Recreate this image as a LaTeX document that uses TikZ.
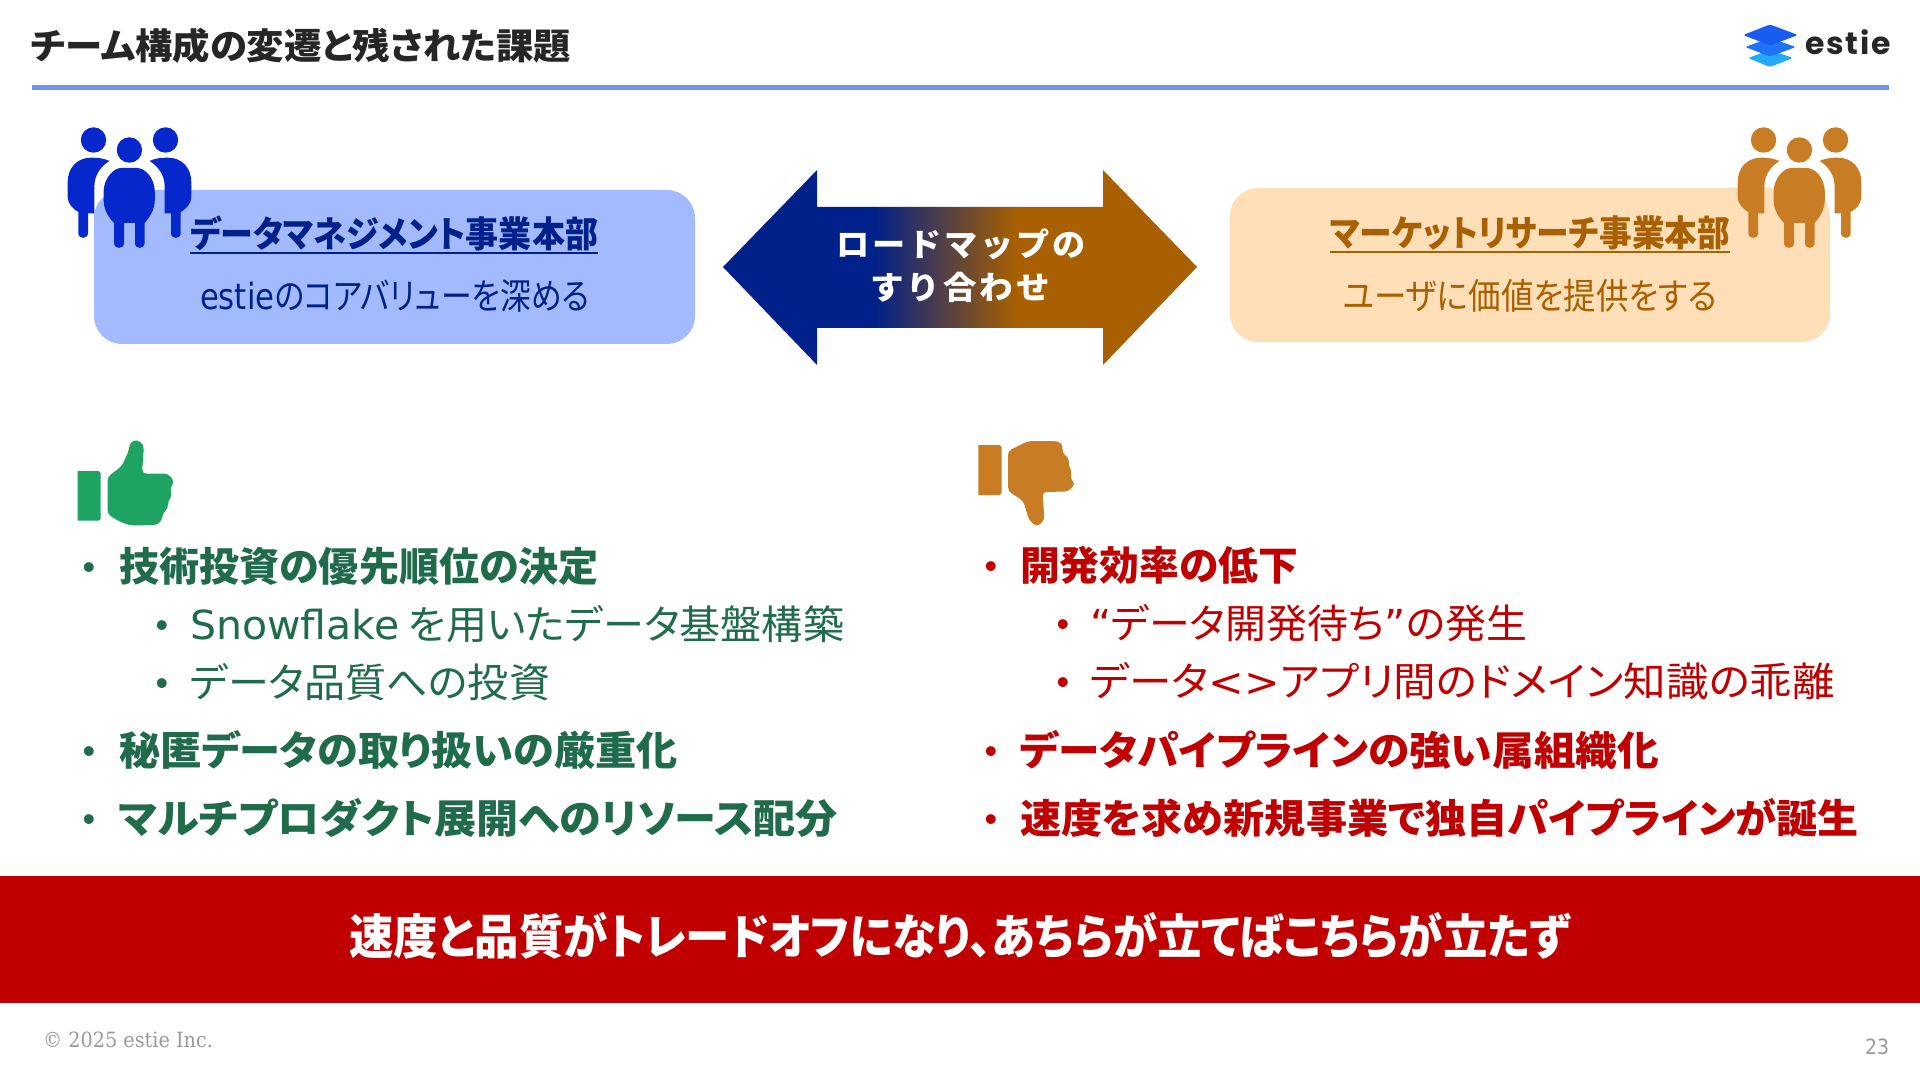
\documentclass[tikz,border=0pt]{standalone}
\usepackage{graphicx}
\usepackage{fontspec}
\setmainfont{Noto Sans CJK JP}[RawFeature=+palt]
\newfontfamily\arrowf{Noto Sans CJK JP}[LetterSpace=9]
\newfontfamily\lat{DejaVu Sans}
\newfontfamily\bul{Liberation Sans}
\newfontfamily\foot{DejaVu Serif}
\newfontfamily\logofont{Poppins}[LetterSpace=6]
\definecolor{navy}{HTML}{00208A}
\definecolor{brownt}{HTML}{A86000}
\definecolor{iconblue}{HTML}{0527CC}
\definecolor{iconbrown}{HTML}{C87D24}
\definecolor{boxblue}{HTML}{A3BAFF}
\definecolor{boxorange}{HTML}{FFDFB8}
\definecolor{goodgreen}{HTML}{1FA363}
\definecolor{textgreen}{HTML}{1F6B4A}
\definecolor{textred}{HTML}{C00000}
\definecolor{rulecol}{HTML}{6D94F0}
\definecolor{greyt}{HTML}{9A9A9A}
% fit text horizontally to a width given in reference pixels
\newsavebox\fitbox
\newcommand\fitw[2]{\sbox\fitbox{#2}\pgfmathsetmacro\fitratio{#1*0.5/\wd\fitbox}\scalebox{\fitratio}[1]{\usebox\fitbox}}
\newcommand\sidefig{\fill (94.5,140) circle[radius=12.7];
  \fill (110.5,161) .. controls (105,158.5) and (100,157.7) .. (92,157.7) .. controls (78,157.7) and (68.7,168) .. (68.7,182) -- (68.7,197) .. controls (68.7,204) and (74,209) .. (79.3,212) -- (79.3,233) .. controls (79.3,239.5) and (89,239.5) .. (89,233) -- (89,213.5) -- (95.4,213.5) -- (95.4,186) .. controls (95.4,175) and (102,166) .. (110.5,161) -- cycle;}
\newcommand\peopleicon[2]{\begin{scope}[shift={(#2,0)},fill=#1]
  \sidefig
  \begin{scope}[shift={(261,0)},xscale=-1]\sidefig\end{scope}
  \fill (130.4,150) circle[radius=12.7];
  \fill (104.6,192) .. controls (104.6,178) and (115,168) .. (122,168) -- (138,168) .. controls (146,168) and (155.8,178) .. (155.8,192) -- (155.8,200) .. controls (155.8,210) and (150,218) .. (145.6,223) -- (145.6,243) .. controls (145.6,249.5) and (136,249.5) .. (136,243) -- (136,223) -- (125,223) -- (125,243) .. controls (125,249.5) and (115,249.5) .. (115,243) -- (115,223) .. controls (110,218) and (104.6,210) .. (104.6,200) -- cycle;
\end{scope}}
\tikzset{
  txt/.style={anchor=base west,inner sep=0pt,outer sep=0pt},
  boxfill/.style={rounded corners=14pt},
  lvlone/.style={txt,font=\fontsize{20pt}{24pt}\selectfont\bfseries},
  lvltwo/.style={txt,font=\fontsize{20pt}{24pt}\selectfont},
  dotmark/.style={anchor=base,inner sep=0pt,font=\bul\fontsize{18pt}{22pt}\selectfont},
}
\begin{document}
\begin{tikzpicture}[x=0.5pt,y=-0.5pt]
\useasboundingbox (0,0) rectangle (1920,1080);
\fill[white] (0,0) rectangle (1920,1080);
% header
\node[txt,font=\fontsize{18pt}{22pt}\selectfont\bfseries,text=black!85] (title) at (31,59.5) {\fitw{540}{チーム構成の変遷と残された課題}};
\coordinate (ruleL) at (32,87.5);
\coordinate (ruleR) at (1889,87.5);
\draw[rulecol,line width=2.5pt] (ruleL) -- (ruleR);
% logo
\fill[rounded corners=1.2pt,color={rgb,255:red,37;green,168;blue,248}] (1748,58) -- (1770,50) -- (1793,58) -- (1770,67) -- cycle;
\fill[rounded corners=1.2pt,color={rgb,255:red,31;green,116;blue,245}] (1745,47) -- (1770,38) -- (1796,47) -- (1770,56.5) -- cycle;
\fill[rounded corners=1.2pt,color={rgb,255:red,26;green,92;blue,240}] (1743,35) -- (1770,24.5) -- (1798,35) -- (1770,45.5) -- cycle;
\node[txt,font=\logofont\fontsize{15.5pt}{20pt}\selectfont\bfseries,text=black!85] (logotext) at (1805,55) {\fitw{86}{estie}};
% department boxes
\fill[boxblue,boxfill] (94,190) rectangle (695,344);
\fill[boxorange,boxfill] (1230,188) rectangle (1830,342);
\peopleicon{iconblue}{-1}
\peopleicon{iconbrown}{1669}
\node[txt,font=\fontsize{18pt}{22pt}\selectfont\bfseries,text=navy] (ltitle) at (190,247.7) {\fitw{408}{データマネジメント事業本部}};
\draw[navy,line width=1.25pt] ([yshift=-2.7pt]ltitle.base west) -- ([yshift=-2.7pt]ltitle.base east);
\node[txt,font=\fontsize{18pt}{22pt}\selectfont,text=navy] (lsub) at (200,310) {\fitw{389}{{\lat estie}のコアバリューを深める}};
\node[txt,font=\fontsize{18pt}{22pt}\selectfont\bfseries,text=brownt] (rtitle) at (1330,246.7) {\fitw{400}{マーケットリサーチ事業本部}};
\draw[brownt,line width=1.25pt] ([yshift=-2.7pt]rtitle.base west) -- ([yshift=-2.7pt]rtitle.base east);
\node[txt,font=\fontsize{18pt}{22pt}\selectfont,text=brownt] (rsub) at (1343,309.5) {\fitw{374}{ユーザに価値を提供をする}};
% double arrow with gradient
\begin{scope}
  \clip (723,267) -- (817,170) -- (817,207) -- (1103,207) -- (1103,170) -- (1197,267) -- (1103,365) -- (1103,328) -- (817,328) -- (817,365) -- cycle;
  \fill[navy] (720,165) rectangle (874,370);
  \fill[brownt] (1016,165) rectangle (1200,370);
  \shade[left color=navy,right color=brownt] (873,165) rectangle (1017,370);
\end{scope}
\node[txt,font=\arrowf\fontsize{16pt}{20pt}\selectfont\bfseries,text=white] (arrowa) at (836,257) {\fitw{250}{ロードマップの}};
\node[txt,font=\arrowf\fontsize{16pt}{20pt}\selectfont\bfseries,text=white] (arrowb) at (870,300) {\fitw{180}{すり合わせ}};
% thumbs
\fill[goodgreen] (77.7,471) -- (98.7,471) -- (100.7,473) -- (100.7,519) -- (98.7,520.7) -- (77.7,520.7) -- cycle;
\fill[goodgreen,rounded corners=2pt] (107.5,477) -- (122,466) -- (129,450) -- (130,442) -- (136.7,439.5) -- (144,445) -- (142,473.5) -- (168,473.5) -- (174.5,481.7) -- (169.5,489.3) -- (172.5,495) -- (167.5,502) -- (168.5,508.3) -- (162.5,513) -- (163,518) -- (157.5,525) -- (130,525.5) -- (118.3,521) -- (107.5,514) -- cycle;
\fill[iconbrown] (978.3,445) -- (999.7,445) -- (1001.7,447) -- (1001.7,493) -- (999.7,495) -- (978.3,495) -- cycle;
\fill[iconbrown,rounded corners=2pt] (1008,451) -- (1028.3,441) -- (1057.5,441) -- (1063,445) -- (1062,453.3) -- (1069.5,458.3) -- (1068,465) -- (1072.5,471.7) -- (1069.5,478.3) -- (1075.5,483.3) -- (1068.5,491.5) -- (1042.5,492) -- (1044.5,520) -- (1036.7,527) -- (1029,520) -- (1023.3,501) -- (1008,491) -- cycle;
% left list
\begin{scope}[text=textgreen]
\node[dotmark] (lb1) at (89,579) {•};
\node[dotmark] (lb2) at (162,637) {•};
\node[dotmark] (lb3) at (162,695) {•};
\node[dotmark] (lb4) at (89,763) {•};
\node[dotmark] (lb5) at (89,831) {•};
\node[lvlone] (l1) at (119,581) {\fitw{480}{技術投資の優先順位の決定}};
\node[lvltwo] (l2) at (190,639) {\fitw{654}{{\lat Snowflake} を用いたデータ基盤構築}};
\node[lvltwo] (l3) at (190,697) {\fitw{360}{データ品質への投資}};
\node[lvlone] (l4) at (119,765) {\fitw{559}{秘匿データの取り扱いの厳重化}};
\node[lvlone] (l5) at (119,833) {\fitw{719}{マルチプロダクト展開へのリソース配分}};
\end{scope}
% right list
\begin{scope}[text=textred]
\node[dotmark] (rb1) at (991,578) {•};
\node[dotmark] (rb2) at (1063,636) {•};
\node[dotmark] (rb3) at (1063,694) {•};
\node[dotmark] (rb4) at (991,763) {•};
\node[dotmark] (rb5) at (991,831) {•};
\node[lvlone] (r1) at (1020,580) {\fitw{278}{開発効率の低下}};
\node[lvltwo] (r2) at (1090,638) {\fitw{437}{{\lat “}データ開発待ち{\lat ”}の発生}};
\node[lvltwo] (r3) at (1090,696) {\fitw{745}{データ{\lat <>}アプリ間のドメイン知識の乖離}};
\node[lvlone] (r4) at (1020,765) {\fitw{639}{データパイプラインの強い属組織化}};
\node[lvlone] (r5) at (1020,833) {\fitw{839}{速度を求め新規事業で独自パイプラインが誕生}};
\end{scope}
% banner
\fill[textred] (0,875.5) rectangle (1920,1003);
\node[txt,font=\fontsize{24pt}{28pt}\selectfont\bfseries,text=white] (banner) at (349,954) {\fitw{1222}{速度と品質がトレードオフになり、あちらが立てばこちらが立たず}};
% footer
\node[txt,font=\foot\fontsize{10.5pt}{12pt}\selectfont,text=greyt] (copy) at (43,1047) {\fitw{170}{© 2025 estie Inc.}};
\node[txt,font=\lat\fontsize{10.5pt}{12pt}\selectfont,text=greyt] (pageno) at (1865,1054) {\fitw{24}{23}};
\end{tikzpicture}
\end{document}
